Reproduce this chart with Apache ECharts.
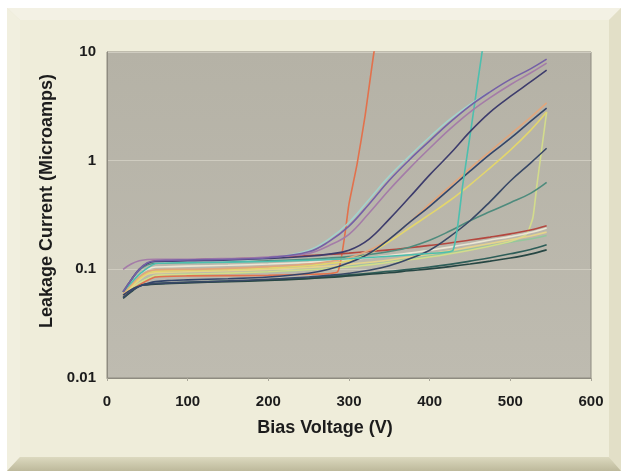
<!DOCTYPE html>
<html>
<head>
<meta charset="utf-8">
<title>Leakage current vs bias voltage</title>
<script src="https://cdn.jsdelivr.net/npm/echarts@6/dist/echarts.min.js"></script>
<style>
  html, body { margin: 0; padding: 0; background: #ffffff; }
  #chart { width: 623px; height: 471px; }
</style>
</head>
<body>
<div id="chart"></div>
<script>
// bias voltage steps shared by most sensors (V)
const volts = [20, 30, 40, 50, 60, 80, 100, 150, 200, 250, 275, 300, 325, 350, 375, 400, 425, 450, 475, 500, 525, 545];

// leakage current (microamps)
const darkGreenA = [0.056, 0.064, 0.071, 0.073, 0.074, 0.075, 0.076, 0.078, 0.08, 0.083, 0.086, 0.089, 0.092, 0.096, 0.1, 0.105, 0.111, 0.119, 0.128, 0.139, 0.152, 0.168];
const darkGreenB = [0.054, 0.062, 0.07, 0.072, 0.073, 0.074, 0.075, 0.077, 0.079, 0.082, 0.084, 0.087, 0.09, 0.093, 0.097, 0.101, 0.106, 0.112, 0.119, 0.127, 0.138, 0.151];
const greenLight = [0.058, 0.066, 0.075, 0.083, 0.087, 0.089, 0.09, 0.092, 0.095, 0.099, 0.102, 0.106, 0.111, 0.117, 0.124, 0.132, 0.142, 0.153, 0.165, 0.178, 0.19, 0.205];
const yellowPale = [0.058, 0.068, 0.08, 0.09, 0.093, 0.094, 0.095, 0.097, 0.1, 0.104, 0.107, 0.111, 0.116, 0.122, 0.13, 0.138, 0.148, 0.16, 0.173, 0.187, 0.203, 0.22];
const whitish = [0.06, 0.075, 0.09, 0.1, 0.105, 0.106, 0.107, 0.109, 0.112, 0.116, 0.119, 0.123, 0.128, 0.134, 0.141, 0.15, 0.16, 0.172, 0.186, 0.2, 0.218, 0.24];
const red = [0.063, 0.08, 0.1, 0.113, 0.12, 0.121, 0.122, 0.125, 0.128, 0.134, 0.137, 0.141, 0.146, 0.151, 0.158, 0.166, 0.175, 0.186, 0.198, 0.212, 0.23, 0.252];
const teal = [0.062, 0.08, 0.098, 0.11, 0.114, 0.115, 0.116, 0.118, 0.12, 0.124, 0.127, 0.131, 0.137, 0.146, 0.16, 0.185, 0.225, 0.28, 0.34, 0.41, 0.5, 0.63];
const navyLow = [0.055, 0.063, 0.07, 0.073, 0.074, 0.075, 0.076, 0.078, 0.081, 0.085, 0.088, 0.092, 0.098, 0.108, 0.125, 0.15, 0.2, 0.28, 0.42, 0.65, 0.95, 1.3];
const yellow = [0.06, 0.07, 0.082, 0.092, 0.096, 0.097, 0.098, 0.1, 0.103, 0.108, 0.113, 0.12, 0.14, 0.18, 0.24, 0.32, 0.43, 0.6, 0.86, 1.25, 1.9, 2.8];
const navyMid = [0.058, 0.065, 0.07, 0.074, 0.077, 0.079, 0.08, 0.082, 0.085, 0.092, 0.1, 0.115, 0.14, 0.19, 0.27, 0.38, 0.55, 0.8, 1.15, 1.6, 2.3, 3.05];
const orange = [0.06, 0.072, 0.085, 0.095, 0.099, 0.1, 0.1, 0.102, 0.106, 0.112, 0.118, 0.128, 0.15, 0.19, 0.27, 0.4, 0.58, 0.85, 1.22, 1.75, 2.5, 3.4];
const cyanPale = [0.063, 0.08, 0.1, 0.113, 0.117, 0.118, 0.119, 0.121, 0.126, 0.15, 0.19, 0.27, 0.44, 0.72, 1.1, 1.65, 2.4, 3.3, 4.3];
const navyHigh = [0.062, 0.08, 0.1, 0.113, 0.118, 0.119, 0.12, 0.122, 0.126, 0.132, 0.138, 0.15, 0.19, 0.29, 0.46, 0.74, 1.15, 1.85, 2.8, 3.9, 5.3, 6.8];
const mauve = [0.1, 0.112, 0.12, 0.123, 0.124, 0.124, 0.124, 0.126, 0.13, 0.14, 0.165, 0.21, 0.33, 0.54, 0.85, 1.3, 1.95, 2.8, 3.8, 5.0, 6.4, 7.9];
const violet = [0.062, 0.08, 0.1, 0.115, 0.12, 0.121, 0.122, 0.124, 0.128, 0.145, 0.18, 0.25, 0.4, 0.66, 1.02, 1.52, 2.25, 3.2, 4.3, 5.6, 7.0, 8.6];

// sensors that broke down, with their own voltage steps
const breakVoltsA = [20, 40, 60, 100, 200, 250, 286, 300, 310, 320, 331, 336];
const breakA = [0.058, 0.072, 0.085, 0.087, 0.088, 0.09, 0.095, 0.4, 0.93, 2.6, 10, 14];
const breakVoltsB = [20, 40, 60, 100, 200, 300, 400, 429, 441, 453, 465, 470];
const breakB = [0.062, 0.09, 0.113, 0.115, 0.118, 0.125, 0.14, 0.15, 0.6, 2.4, 10, 14];
const breakVoltsC = [20, 40, 60, 100, 200, 300, 400, 450, 500, 520, 528, 533, 545];
const breakC = [0.058, 0.075, 0.088, 0.09, 0.095, 0.105, 0.13, 0.15, 0.18, 0.21, 0.3, 0.6, 2.8];

const yTicks = [0.01, 0.1, 1, 10];
const yTickLabels = ['0.01', '0.1', '1', '10'];

const pair = (xs, ys) => ys.map((y, i) => [xs[i], y]);

const lines = [
  { data: pair(volts, darkGreenA), color: '#2d5d58' },
  { data: pair(volts, darkGreenB), color: '#264643' },
  { data: pair(volts, greenLight), color: '#93c79c' },
  { data: pair(breakVoltsC, breakC), color: '#d3dc8c', sharp: true },
  { data: pair(volts, yellowPale), color: '#e6d48c' },
  { data: pair(volts, whitish), color: '#ebe6d4' },
  { data: pair(breakVoltsA, breakA), color: '#e2714c', sharp: true },
  { data: pair(volts, red), color: '#b4473f' },
  { data: pair(volts, teal), color: '#4e8b7d' },
  { data: pair(volts, navyLow), color: '#384866' },
  { data: pair(volts, yellow), color: '#e3d66c' },
  { data: pair(volts, orange), color: '#e2a67c' },
  { data: pair(volts, navyMid), color: '#33456a' },
  { data: pair(breakVoltsB, breakB), color: '#4cbfae', sharp: true },
  { data: pair(volts, cyanPale), color: '#a4d3cc' },
  { data: pair(volts, navyHigh), color: '#3d3c6c' },
  { data: pair(volts, mauve), color: '#a47ca8' },
  { data: pair(volts, violet), color: '#7560a6' }
];

const labelFont = {
  fontFamily: '"Liberation Sans", Arial, sans-serif',
  fontWeight: 'bold',
  color: '#1c1c1c'
};

const getOption = () => ({
  animation: false,
  backgroundColor: '#ffffff',
  graphic: [
    { type: 'rect', z: -10, shape: { x: 7, y: 8, width: 614, height: 463 }, style: { fill: '#ece9d4' } },
    { type: 'polygon', z: -9, shape: { points: [[7, 8], [621, 8], [609, 20], [20, 20]] }, style: { fill: '#f3f1e4' } },
    { type: 'polygon', z: -9, shape: { points: [[7, 8], [20, 20], [20, 457], [7, 471]] }, style: { fill: '#f1efdf' } },
    { type: 'polygon', z: -9, shape: { points: [[621, 8], [621, 471], [609, 457], [609, 20]] }, style: { fill: '#e2dfc7' } },
    {
      type: 'polygon', z: -9,
      shape: { points: [[7, 471], [20, 457], [609, 457], [621, 471]] },
      style: {
        fill: new echarts.graphic.LinearGradient(0, 0, 0, 1, [
          { offset: 0, color: '#dcd9bf' },
          { offset: 1, color: '#bdb99b' }
        ])
      }
    },
    { type: 'rect', z: -9, shape: { x: 20, y: 20, width: 589, height: 437 }, style: { fill: '#efedda' } }
  ],
  grid: {
    left: 107, right: 32, top: 52, bottom: 93,
    show: true,
    backgroundColor: new echarts.graphic.LinearGradient(0, 0, 0, 1, [
      { offset: 0, color: '#b5b2a6' },
      { offset: 1, color: '#bebbb0' }
    ]),
    borderColor: '#8e8b80',
    borderWidth: 1
  },
  xAxis: {
    type: 'value',
    min: 0, max: 600, interval: 100,
    name: 'Bias Voltage (V)',
    nameLocation: 'middle',
    nameGap: 41,
    nameTextStyle: { ...labelFont, fontSize: 18, padding: [0, 48, 0, 0] },
    axisLine: { show: true, lineStyle: { color: '#8e8b80' } },
    axisTick: { show: true, length: 3, lineStyle: { color: '#a9a699' } },
    axisLabel: { ...labelFont, fontSize: 15, margin: 16 },
    splitLine: { show: false }
  },
  yAxis: {
    type: 'log',
    logBase: 10,
    min: 0.01, max: 10,
    name: 'Leakage Current (Microamps)',
    nameLocation: 'middle',
    nameGap: 43,
    nameTextStyle: { ...labelFont, fontSize: 18, padding: [0, 0, 0, 28] },
    axisLine: { show: true, lineStyle: { color: '#8e8b80' } },
    axisTick: { show: false },
    axisLabel: {
      ...labelFont, fontSize: 15, margin: 11,
      formatter: (v) => {
        const i = yTicks.findIndex((t) => Math.abs(Math.log10(t) - Math.log10(v)) < 1e-6);
        return i >= 0 ? yTickLabels[i] : '';
      }
    },
    splitLine: { show: true, lineStyle: { color: '#cfccc0', width: 1 } }
  },
  series: lines.map((l) => ({
    type: 'line',
    data: l.data,
    smooth: l.sharp ? 0.15 : 0.4,
    showSymbol: false,
    clip: true,
    lineStyle: { width: 1.6, color: l.color },
    itemStyle: { color: l.color }
  }))
});

const initChart = () => {
  const chart = echarts.init(document.getElementById('chart'));
  chart.setOption(getOption());
};

window.addEventListener('load', () => {
  initChart();
});
</script>
</body>
</html>
